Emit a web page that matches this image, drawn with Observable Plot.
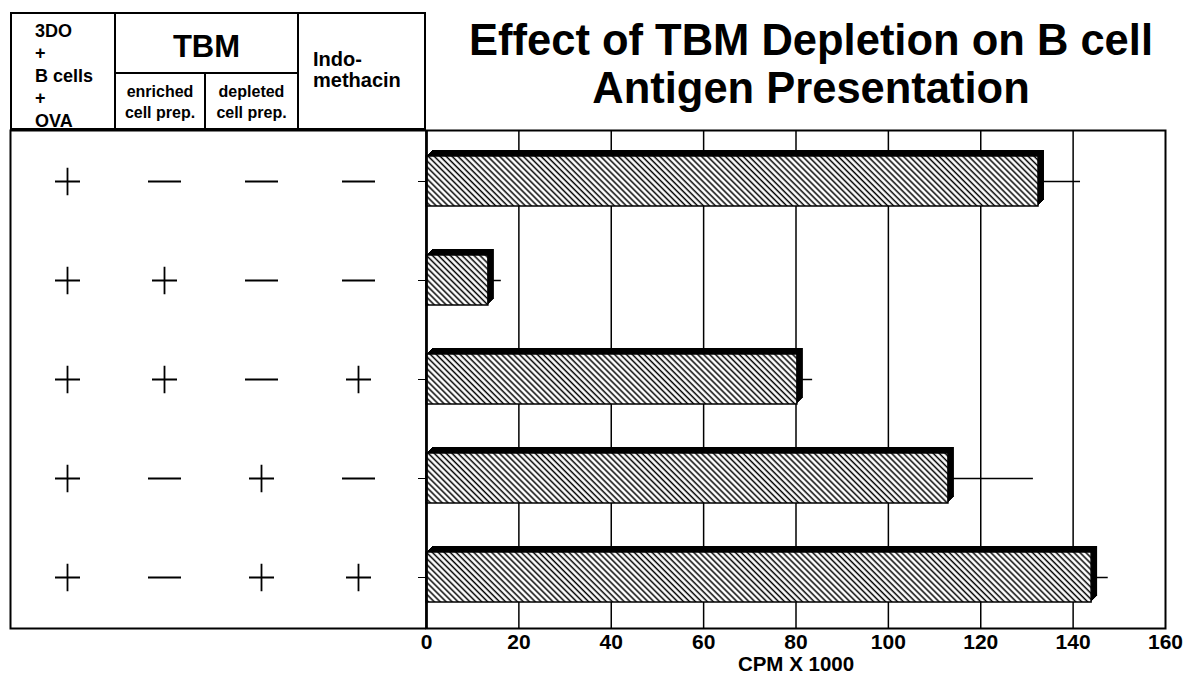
<!DOCTYPE html>
<html>
<head>
<meta charset="utf-8">
<script src="https://cdn.jsdelivr.net/npm/d3@7"></script>
<script src="https://cdn.jsdelivr.net/npm/@observablehq/plot@0.6"></script>
<style>
  body { margin: 0; background: white; }
  #wrap { position: relative; width: 1188px; height: 683px; background: white;
          font-family: "Liberation Sans", Arial, sans-serif; font-weight: bold; color: black; }
  .abs { position: absolute; white-space: nowrap; }
  .ln { position: absolute; background: black; }
</style>
</head>
<body>
<div id="wrap">
  <div class="abs" style="left:10px;top:12px;width:416px;height:118px;border:2px solid black;box-sizing:border-box;"></div>
  <div class="ln" style="left:114px;top:12px;width:2px;height:118px;"></div>
  <div class="ln" style="left:297px;top:12px;width:2px;height:118px;"></div>
  <div class="ln" style="left:115px;top:72px;width:183px;height:2px;"></div>
  <div class="ln" style="left:204px;top:73px;width:2px;height:57px;"></div>
  <div class="abs" style="left:35px;top:19.5px;font-size:18px;line-height:22.5px;">3DO<br>+<br>B cells<br>+<br>OVA</div>
  <div class="abs" style="left:115px;width:183px;text-align:center;top:30.7px;font-size:31px;line-height:31px;">TBM</div>
  <div class="abs" style="left:115px;width:90px;text-align:center;top:81px;font-size:16px;line-height:21px;">enriched<br>cell prep.</div>
  <div class="abs" style="left:205px;width:93px;text-align:center;top:81px;font-size:16px;line-height:21px;">depleted<br>cell prep.</div>
  <div class="abs" style="left:313px;top:49px;font-size:20px;line-height:21px;">Indo-<br>methacin</div>
  <div class="abs" style="left:426px;width:770px;text-align:center;top:15.5px;font-size:43.5px;line-height:48px;">Effect of TBM Depletion on B cell<br>Antigen Presentation</div>
  <div id="left" style="position:absolute;left:0;top:129px;"></div>
  <div id="right" style="position:absolute;left:416px;top:129px;"></div>
</div>
<script>
// ---- data ----
const rows = ["1", "2", "3", "4", "5"];
const columns = ["3DO + B cells + OVA", "TBM enriched cell prep.", "TBM depleted cell prep.", "Indomethacin"];
const threeDO      = ["+", "+", "+", "+", "+"];
const tbmEnriched  = ["-", "+", "+", "-", "-"];
const tbmDepleted  = ["-", "-", "-", "+", "+"];
const indomethacin = ["-", "-", "+", "-", "+"];
const cpm    = [132.5, 13.4, 80.3, 113.0, 144.0];
const cpmErr = [9.1, 2.8, 3.3, 18.4, 3.6];
const xTicks = [0, 20, 40, 60, 80, 100, 120, 140, 160];
const gridTicks = [20, 40, 60, 80, 100, 120, 140];
const xLabel = "CPM X 1000";

// ---- derived tables ----
const signs = [threeDO, tbmEnriched, tbmDepleted, indomethacin];
const cells = [];
rows.forEach((r, i) => columns.forEach((c, j) => cells.push({row: r, column: c, sign: signs[j][i]})));
const bars = rows.map((r, i) => ({row: r, cpm: cpm[i], hi: cpm[i] + cpmErr[i]}));

const plusSymbol = {draw(ctx, size) { const r = Math.sqrt(size / Math.PI);
  ctx.moveTo(-r, 0); ctx.lineTo(r, 0); ctx.moveTo(0, -r * 1.1); ctx.lineTo(0, r * 1.1); }};
const minusSymbol = {draw(ctx, size) { const r = Math.sqrt(size / Math.PI);
  ctx.moveTo(-r * 1.32, 0); ctx.lineTo(r * 1.32, 0); }};

const yScale = {type: "band", domain: rows, paddingInner: 0.5, paddingOuter: 0.25};

const left = Plot.plot({
  width: 426, height: 554, marginTop: 1, marginBottom: 55, marginLeft: 10, marginRight: 0,
  style: {background: "transparent"},
  x: {type: "point", domain: columns, range: [67, 358], padding: 0, axis: null},
  y: {...yScale, axis: null},
  marks: [
    Plot.frame({stroke: "black", strokeWidth: 2}),
    Plot.dot(cells.filter(d => d.sign === "+"), {x: "column", y: "row", symbol: plusSymbol, r: 12.5, stroke: "black", strokeWidth: 1.8, fill: "none"}),
    Plot.dot(cells.filter(d => d.sign === "-"), {x: "column", y: "row", symbol: minusSymbol, r: 12.5, stroke: "black", strokeWidth: 1.8, fill: "none"})
  ]
});
document.getElementById("left").append(left);

const shadows = d3.range(1, 7).map(i =>
  Plot.barX(bars, {x: "cpm", y: "row", fill: "black", dx: i, dy: -i}));

const right = Plot.plot({
  width: 772, height: 554, marginTop: 1, marginBottom: 55, marginLeft: 10, marginRight: 23,
  style: {background: "transparent", fontFamily: "Liberation Sans, Arial, sans-serif", fontWeight: "bold", fontSize: "21px", color: "black"},
  x: {domain: [0, 160], ticks: xTicks, tickSize: 0, tickPadding: 6, label: null, tickFormat: d => String(d)},
  y: {...yScale, tickSize: 8, tickFormat: () => "", label: null},
  marks: [
    Plot.ruleX(gridTicks, {stroke: "black", strokeWidth: 1.5}),
    Plot.ruleY(bars, {y: "row", x1: "cpm", x2: "hi", stroke: "black", strokeWidth: 1.5}),
    ...shadows,
    Plot.barX(bars, {x: "cpm", y: "row", fill: "url(#hatch)", stroke: "black", strokeWidth: 1.5}),
    Plot.frame({stroke: "black", strokeWidth: 2}),
    Plot.ruleX([0], {stroke: "black", strokeWidth: 2.5}),
    Plot.text([xLabel], {frameAnchor: "bottom", dy: 42, fontSize: 20.5, fontWeight: "bold", fill: "black"})
  ]
});
const defs = d3.select(right).insert("defs", ":first-child");
const pat = defs.append("pattern").attr("id", "hatch").attr("patternUnits", "userSpaceOnUse")
  .attr("width", 4.2).attr("height", 10).attr("patternTransform", "rotate(-45)");
pat.append("rect").attr("width", 4.2).attr("height", 10).attr("fill", "white");
pat.append("line").attr("x1", 2).attr("x2", 2).attr("y1", 0).attr("y2", 10).attr("stroke", "black").attr("stroke-width", 1.5);
document.getElementById("right").append(right);
</script>
</body>
</html>
